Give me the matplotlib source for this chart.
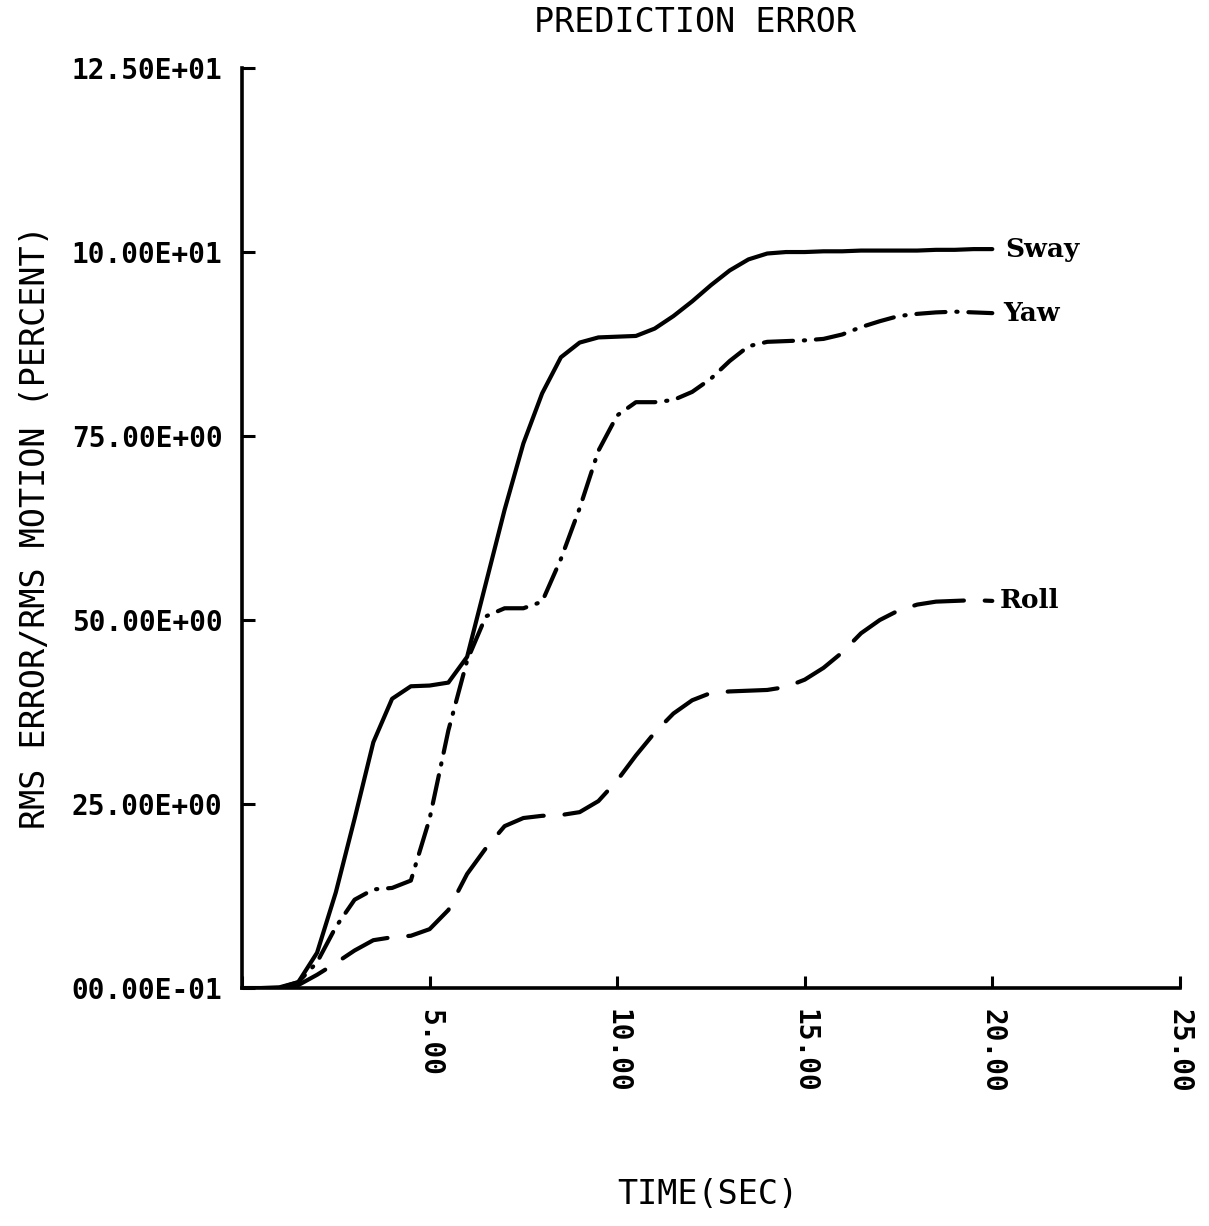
import matplotlib
matplotlib.use("Agg")
import matplotlib.pyplot as plt

# values (time in sec, percent)
time_sway = [0, 0.5, 1.0, 1.5, 2.0, 2.5, 3.0, 3.5, 4.0, 4.5, 5.0, 5.5, 6.0, 6.5,
             7.0, 7.5, 8.0, 8.5, 9.0, 9.5, 10.0, 10.5, 11.0, 11.5, 12.0, 12.5,
             13.0, 13.5, 14.0, 14.5, 15.0, 15.5, 16.0, 16.5, 17.0, 17.5, 18.0,
             18.5, 19.0, 19.5, 20.0]
sway = [0, 0, 0.1, 0.8, 4.8, 13.0, 23.0, 33.4, 39.3, 41.0, 41.1, 41.5, 45.0,
        55.0, 65.0, 74.0, 80.8, 85.7, 87.7, 88.4, 88.5, 88.6, 89.6, 91.3, 93.3,
        95.5, 97.5, 99.0, 99.8, 100.0, 100.0, 100.1, 100.1, 100.2, 100.2, 100.2,
        100.2, 100.3, 100.3, 100.4, 100.4]

time_other = time_sway[2:]
yaw = [0, 0.8, 3.5, 8.3, 12.0, 13.4, 13.6, 14.6, 23.0, 35.0, 44.5, 50.5, 51.6,
       51.6, 52.5, 58.3, 65.2, 73.0, 77.8, 79.6, 79.6, 79.9, 81.0, 82.8, 85.2,
       87.2, 87.8, 87.9, 88.0, 88.2, 88.8, 89.8, 90.6, 91.3, 91.6, 91.8, 91.9,
       91.8, 91.7]
roll = [0, 0.4, 1.8, 3.4, 5.1, 6.5, 6.9, 7.1, 8.0, 10.6, 15.5, 19.0, 22.0,
        23.1, 23.4, 23.5, 23.9, 25.4, 28.2, 31.6, 34.7, 37.3, 39.1, 40.1, 40.3,
        40.4, 40.5, 40.9, 41.9, 43.5, 45.6, 48.2, 50.0, 51.3, 52.1, 52.5, 52.6,
        52.7, 52.6]

x_ticks = [0, 5, 10, 15, 20, 25]
x_labels = ["", "5.00", "10.00", "15.00", "20.00", "25.00"]
y_ticks = [0, 25, 50, 75, 100, 125]
y_labels = ["00.00E-01", "25.00E+00", "50.00E+00", "75.00E+00",
            "10.00E+01", "12.50E+01"]

mono = "DejaVu Sans Mono"
serif = "DejaVu Serif"

fig = plt.figure(figsize=(12.09, 12.26), dpi=100)
ax = fig.add_axes([0.2002, 0.1941, 0.7757, 0.7504])

ax.plot(time_sway, sway, color="black", lw=3, solid_capstyle="round")
ax.plot(time_other, yaw, color="black", lw=3, dashes=(7, 2.6, 0.3, 2.6),
        dash_capstyle="round")
ax.plot(time_other, roll, color="black", lw=3, dashes=(12, 5),
        dash_capstyle="round")

ax.text(20.35, sway[-1], "Sway", family=serif, weight="bold", fontsize=19,
        va="center", ha="left")
ax.text(20.3, yaw[-1], "Yaw", family=serif, weight="bold", fontsize=19,
        va="center", ha="left")
ax.text(20.2, roll[-1], "Roll", family=serif, weight="bold", fontsize=19,
        va="center", ha="left")

ax.set_xlim(0, 25)
ax.set_ylim(0, 125)
ax.set_xticks(x_ticks)
ax.set_xticklabels(x_labels, rotation=-90, family=mono, weight="bold",
                   fontsize=20, va="top")
ax.set_yticks(y_ticks)
ax.set_yticklabels(y_labels, family=mono, weight="bold", fontsize=20)
ax.tick_params(axis="both", direction="in", length=9, width=2.2)
ax.tick_params(axis="x", pad=15)
ax.tick_params(axis="y", pad=14)

for side in ["top", "right"]:
    ax.spines[side].set_visible(False)
for side in ["left", "bottom"]:
    ax.spines[side].set_linewidth(2.6)

fig.text(0.575, 0.982, "PREDICTION ERROR", family=mono, fontsize=24,
         ha="center", va="center")
fig.text(0.5856, 0.0253, "TIME(SEC)", family=mono, fontsize=24,
         ha="center", va="center")
fig.text(0.029, 0.570, "RMS ERROR/RMS MOTION (PERCENT)", family=mono,
         fontsize=24, ha="center", va="center", rotation=90)

fig.savefig("out.png", dpi=100)
